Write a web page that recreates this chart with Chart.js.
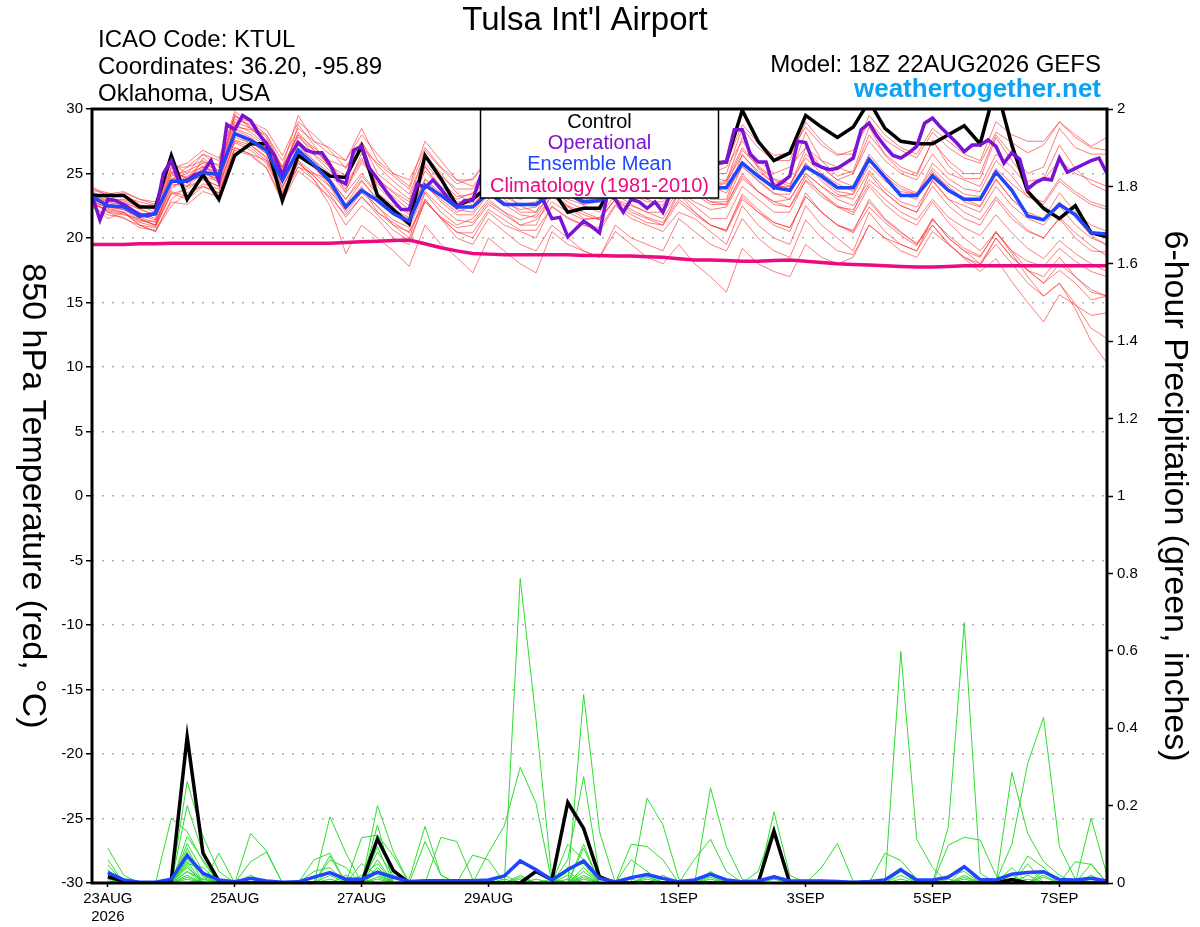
<!DOCTYPE html>
<html>
<head>
<meta charset="utf-8">
<title>Tulsa Int'l Airport - GEFS 850 hPa temperature and precipitation</title>
<script src="https://cdn.jsdelivr.net/npm/chart.js@4.4.1/dist/chart.umd.min.js"></script>
<style>
  html, body { margin: 0; padding: 0; background: #fff; }
  canvas { display: block; }
</style>
</head>
<body>
<canvas id="chart" width="1200" height="927"></canvas>
<script>
// forecast hours from 18Z 22AUG2026 (members every 6 h, operational every 3 h)
const hours6 = Array.from({ length: 65 }, (_, i) => i * 6)
const hours3 = Array.from({ length: 129 }, (_, i) => i * 3)

const tickHours = [6, 54, 102, 150, 222, 270, 318, 366]
const tickLabels = [['23AUG', '2026'], '25AUG', '27AUG', '29AUG', '1SEP', '3SEP', '5SEP', '7SEP']

// 850 hPa temperature, deg C (6-hourly, starting 18Z 22AUG)
const ctrlTemp = [
  23.3,23.3,23.3,22.4,22.4,26.4,23.0,24.9,23.0,26.4,27.3,27.3,22.9,
  26.4,25.6,24.8,24.7,27.1,23.3,22.2,21.1,26.4,24.6,22.5,23.0,24.0,
  25.5,25.0,24.5,23.8,22.0,22.3,22.3,24.5,25.0,24.5,25.0,24.5,25.0,
  25.8,25.9,29.9,27.5,26.0,26.6,29.5,28.6,27.8,28.6,30.6,28.5,27.5,
  27.3,27.3,28.0,28.7,27.3,31.8,27.2,23.6,22.3,21.5,22.5,20.4,20.1
]
const meanTemp = [
  23.2,22.5,22.4,21.7,21.9,24.4,24.4,25.1,24.9,28.1,27.6,26.8,24.5,
  26.8,25.7,24.4,22.4,23.7,22.9,21.9,21.3,24.1,23.3,22.4,22.4,23.5,
  22.6,22.6,22.6,23.5,23.4,22.8,22.9,23.5,23.8,23.6,23.5,23.6,23.9,
  23.9,23.9,25.8,24.8,23.9,23.7,25.5,24.8,23.9,23.9,26.1,24.7,23.3,
  23.3,24.8,23.7,23.0,23.0,25.1,23.7,21.7,21.4,22.6,21.8,20.4,20.3
]
const climTemp = [
  19.5,19.5,19.5,19.55,19.55,19.6,19.6,19.6,19.6,19.6,19.6,19.6,19.6,
  19.6,19.6,19.6,19.65,19.7,19.75,19.8,19.85,19.55,19.25,19.0,18.8,18.75,
  18.7,18.7,18.7,18.7,18.7,18.65,18.65,18.6,18.6,18.55,18.5,18.4,18.3,
  18.3,18.25,18.2,18.2,18.25,18.3,18.2,18.1,18.0,17.95,17.9,17.85,17.8,
  17.75,17.75,17.8,17.85,17.85,17.85,17.85,17.85,17.85,17.85,17.85,17.85,17.85
]
// operational run, 3-hourly
const operTemp = [
  23.3,21.4,23.0,22.9,22.6,22.2,21.8,21.7,
  21.9,25.0,26.0,24.3,24.5,24.9,25.1,26.0,
  24.4,28.8,28.4,29.5,29.1,28.1,27.3,26.4,
  24.9,26.4,27.4,26.8,26.6,26.6,25.7,24.5,
  24.2,26.8,27.1,25.4,24.6,23.7,22.9,22.2,
  22.2,24.2,23.9,24.5,23.8,23.0,22.4,22.9,
  22.9,24.8,25.6,25.3,25.8,25.2,24.6,24.0,
  23.4,22.8,21.5,21.6,20.1,20.7,21.3,20.9,
  20.4,23.4,23.0,22.0,23.0,22.8,22.3,22.8,
  22.0,23.5,24.2,24.5,24.8,24.6,25.0,25.8,
  25.9,28.4,28.4,26.5,25.9,25.9,23.9,24.3,
  24.8,27.5,27.4,25.8,25.5,25.3,25.4,25.8,
  26.2,28.4,28.9,27.9,27.1,26.4,26.2,26.6,
  27.1,28.9,29.3,28.6,28.0,27.4,26.7,27.2,
  27.2,27.6,27.1,25.8,26.6,26.1,23.8,24.3,
  24.6,24.5,26.2,25.1,25.4,25.7,26.0,26.2,
  25.0
]
// ensemble members (thin red)
const redMembers = [
  [23.5,22.8,23.0,22.5,22.0,25.0,24.0,25.5,24.8,28.5,28.0,27.0,25.0,27.5,26.5,25.5,24.0,26.0,24.5,23.5,22.5,25.5,24.0,23.0,23.5,25.0,24.0,23.5,24.0,25.5,24.5,24.0,24.5,26.0,25.0,24.5,25.0,26.5,25.5,25.0,25.5,27.5,26.0,25.0,25.5,27.0,26.0,25.5,25.0,27.5,26.0,25.0,24.5,26.5,25.0,24.5,24.0,26.5,25.5,24.0,24.5,26.0,25.0,24.5,24.0],
  [22.8,22.0,21.5,21.0,20.8,23.5,23.0,24.0,23.5,27.0,26.5,25.5,23.0,25.5,24.5,23.0,21.0,22.5,21.5,20.0,19.5,23.0,21.5,20.5,20.0,22.0,21.0,20.5,20.0,22.5,21.5,21.0,20.5,22.5,21.5,21.0,20.5,22.0,21.5,20.5,19.5,22.5,21.0,20.0,19.5,22.5,21.0,20.0,19.0,22.0,20.5,19.5,19.0,21.0,19.5,18.5,18.0,20.0,18.5,17.5,17.0,18.5,17.0,16.0,15.5],
  [23.0,22.5,22.5,21.5,21.0,24.5,25.0,25.5,25.0,29.5,28.5,27.5,25.5,28.0,27.0,26.0,25.5,27.5,25.0,24.0,23.0,26.5,25.0,23.5,22.5,24.0,23.5,22.5,22.0,24.5,23.5,22.5,22.0,24.0,23.5,23.0,22.5,25.0,24.0,23.0,23.0,26.5,25.0,24.0,24.0,27.0,25.5,24.5,25.0,28.0,26.5,25.5,25.0,27.5,26.0,25.0,25.0,28.0,26.5,25.0,25.5,28.5,27.0,26.5,26.5],
  [22.5,21.5,22.0,21.0,20.5,23.0,24.0,24.5,24.0,27.5,27.0,26.0,24.0,26.0,25.0,24.0,22.0,23.5,22.5,21.0,20.0,23.5,22.0,21.0,21.5,23.0,22.0,21.0,21.0,23.5,22.5,21.5,21.5,23.0,22.0,21.5,21.0,23.5,22.0,21.0,20.5,23.0,22.0,21.0,20.5,23.5,22.0,21.0,20.5,23.0,21.5,20.5,19.5,21.5,20.0,19.0,18.0,19.5,18.0,16.5,15.5,16.5,14.5,12.0,10.3],
  [23.8,23.5,23.2,22.8,22.5,25.5,25.5,26.0,25.0,28.0,27.5,27.0,24.5,27.0,26.0,25.0,23.5,25.0,23.5,22.5,22.0,24.5,23.5,22.5,23.0,24.5,23.5,23.0,23.5,24.5,24.0,23.5,23.5,25.0,24.5,24.0,24.5,26.0,25.0,24.0,24.5,27.0,25.5,24.5,24.0,26.5,25.5,24.5,24.0,26.5,25.0,24.0,23.5,25.0,24.0,23.0,22.5,24.5,23.0,22.0,21.5,23.5,22.0,21.0,20.5],
  [23.0,22.0,21.8,21.5,21.0,24.0,24.5,25.0,24.5,28.0,27.5,26.5,24.0,26.0,24.5,22.5,18.8,21.0,20.0,19.0,17.8,21.0,19.5,18.5,17.3,20.0,19.0,18.0,17.3,20.5,19.5,19.0,18.5,21.0,20.0,19.5,19.0,21.5,20.5,19.5,19.0,21.5,20.0,19.0,18.5,21.4,20.0,19.0,18.7,21.0,20.0,19.0,18.5,20.5,19.5,18.5,17.8,20.0,18.5,17.5,16.5,18.0,17.0,15.8,15.5],
  [23.2,22.8,22.5,22.0,21.5,24.5,25.5,26.5,25.5,29.0,28.5,28.0,25.5,29.5,27.5,26.5,26.0,28.5,26.0,25.0,24.0,27.5,26.0,24.5,24.0,25.5,24.5,24.0,23.5,25.5,25.0,24.5,24.0,26.5,25.5,25.0,24.5,27.0,26.0,25.0,25.0,28.5,27.0,26.0,26.0,29.0,27.5,26.5,26.5,29.5,28.0,27.0,26.5,28.5,27.5,26.5,26.0,29.0,28.0,27.5,27.5,29.0,28.0,27.1,27.8],
  [22.6,22.2,22.0,21.0,20.5,22.5,23.5,24.0,23.5,27.0,26.5,26.0,23.5,25.5,25.0,24.5,23.0,24.5,23.0,22.0,21.5,24.0,23.0,22.0,22.5,24.0,23.0,22.0,22.0,23.5,22.5,22.0,21.5,23.0,22.5,22.0,21.5,23.5,22.5,21.5,21.5,24.0,23.0,22.0,22.0,24.5,23.5,22.5,22.0,25.0,23.5,22.5,22.0,24.5,23.0,22.5,22.0,24.0,22.5,21.5,21.0,22.5,21.0,20.0,19.5],
  [24.0,23.2,23.5,23.0,22.8,25.8,25.0,26.5,26.0,29.8,29.0,28.0,26.0,28.5,27.5,27.0,26.0,28.0,26.5,25.0,24.5,27.0,25.5,24.5,24.5,26.0,25.0,24.5,24.0,25.5,25.0,24.0,24.5,25.5,25.0,24.5,24.0,25.5,24.5,24.0,23.5,25.5,24.5,23.5,23.0,25.0,24.0,23.0,22.5,24.5,23.5,22.5,22.0,24.0,22.5,21.5,21.0,23.0,21.5,20.5,20.0,21.5,20.0,19.0,18.9],
  [22.9,22.3,22.0,21.3,21.3,23.8,24.8,25.3,24.2,28.2,27.2,26.3,23.8,26.8,25.5,24.0,22.5,24.0,22.0,21.0,20.5,23.0,21.5,20.0,19.5,21.5,20.5,19.5,19.0,21.0,20.0,19.0,18.5,20.5,19.5,18.5,18.0,19.5,18.0,17.0,15.8,19.2,18.0,17.4,17.0,19.5,18.5,18.0,18.5,21.0,20.0,19.5,19.0,21.5,20.0,19.0,18.5,20.5,19.0,17.5,16.5,17.5,16.5,15.2,15.5],
  [23.4,22.6,22.8,22.2,21.8,24.8,25.2,25.8,25.2,28.8,28.2,27.2,24.8,27.8,26.8,25.8,24.2,26.2,24.2,23.2,22.2,25.2,23.8,22.8,22.8,24.2,23.2,22.6,22.8,24.6,23.6,23.0,23.0,24.8,23.8,23.2,23.0,24.8,23.6,22.8,22.6,25.0,23.6,22.8,22.4,24.8,23.4,22.4,21.8,24.0,22.6,21.6,21.0,22.8,21.2,20.0,19.0,20.5,18.8,17.0,15.5,16.5,14.9,13.0,12.2],
  [23.6,23.0,23.4,22.6,22.2,25.2,24.6,25.6,25.0,28.6,28.4,27.6,25.2,28.2,26.8,25.6,24.8,27.0,25.8,24.8,23.8,26.8,25.4,24.2,24.6,26.2,25.6,25.0,24.8,26.4,25.4,24.8,25.0,26.8,26.0,25.4,25.6,27.4,26.4,25.6,25.8,28.8,27.4,26.4,26.6,28.6,27.2,26.4,26.8,29.0,27.6,26.8,26.2,28.2,27.0,26.2,25.8,28.2,27.4,26.6,27.2,29.0,27.8,27.0,26.8],
  [23.1,22.4,22.2,21.6,21.2,24.2,24.0,25.0,24.6,28.4,27.8,26.8,24.4,27.2,26.0,24.6,23.0,24.8,23.4,22.2,21.6,24.6,23.2,22.2,22.0,23.6,22.8,22.2,22.4,24.0,23.0,22.6,22.8,24.4,23.6,23.0,23.2,24.6,23.6,22.8,22.8,25.6,24.4,23.4,23.4,25.8,24.6,23.6,23.4,26.0,24.6,23.4,23.0,25.2,23.8,22.8,22.4,24.6,23.0,21.8,21.4,22.8,21.6,20.2,19.4],
  [22.7,22.1,21.9,21.2,20.9,23.4,23.8,24.6,24.0,27.6,27.2,26.2,23.6,25.8,24.8,23.4,21.6,23.2,21.8,20.6,19.8,22.8,21.6,20.4,20.4,22.2,21.4,20.6,20.6,22.4,21.6,21.0,20.8,22.6,21.8,21.2,21.0,22.8,21.8,21.0,20.6,23.2,22.0,21.2,20.8,23.2,22.0,21.0,20.6,22.8,21.4,20.4,19.6,21.0,19.6,18.4,17.4,18.4,16.6,15.0,13.5,15.6,14.8,14.0,14.2],
  [23.3,22.9,22.7,22.3,21.7,25.1,24.7,25.9,25.7,29.2,28.8,27.8,25.4,28.0,26.4,25.2,23.8,25.8,24.6,23.6,22.8,25.8,24.4,23.2,23.4,25.0,24.2,23.8,23.6,25.2,24.4,23.8,23.8,25.6,24.8,24.2,24.0,25.8,24.8,24.2,24.2,26.8,25.6,24.6,24.2,26.2,25.0,24.2,23.6,26.0,24.8,23.8,23.4,25.8,24.6,23.8,23.6,26.0,24.8,23.2,22.6,24.4,23.4,22.6,22.2],
  [22.4,21.8,21.6,20.8,20.6,22.8,22.6,23.6,23.2,26.8,26.4,25.4,22.8,25.2,24.2,23.2,21.8,23.2,22.0,21.2,20.4,22.8,21.6,20.8,21.0,22.6,21.8,21.0,21.4,22.8,22.0,21.4,21.6,23.4,22.6,22.0,22.0,23.6,22.8,22.2,22.4,24.6,23.6,22.8,23.0,25.0,24.0,23.2,23.4,25.6,24.4,23.6,23.4,25.4,24.2,23.4,23.2,25.4,24.2,23.2,22.8,24.6,23.6,22.8,22.4],
  [23.7,23.4,23.6,23.0,22.6,26.0,24.2,26.2,25.2,29.6,28.6,27.4,24.6,28.8,27.2,25.4,23.6,26.6,24.0,22.8,21.8,25.6,23.6,22.6,23.2,24.8,23.6,23.2,23.6,25.8,24.6,23.6,24.2,26.2,24.8,23.6,24.4,26.8,24.6,23.6,24.4,27.8,25.4,24.2,24.8,28.2,26.0,24.8,25.2,28.6,26.4,25.2,24.8,27.6,25.6,24.6,24.6,27.8,26.0,24.4,24.6,27.2,25.4,24.2,23.6],
  [23.0,22.6,22.4,21.8,21.4,24.6,24.4,24.8,24.4,27.8,27.4,26.6,24.2,26.6,25.6,24.2,22.6,24.4,23.0,21.8,21.0,24.2,22.8,21.8,21.8,23.4,22.6,21.8,21.6,23.2,22.4,21.8,21.4,23.0,22.2,21.6,21.2,23.0,22.0,21.0,20.6,23.4,22.2,21.2,20.8,23.2,22.0,21.0,20.4,22.4,21.2,20.2,19.4,21.4,20.2,19.2,18.6,20.4,19.0,18.2,17.8,19.2,18.2,17.4,17.0],
  [23.5,23.1,22.9,22.4,22.3,25.4,25.8,26.8,26.2,29.4,29.0,28.4,26.4,29.0,28.0,26.8,25.4,27.4,25.6,24.4,23.4,26.4,24.8,23.8,23.8,25.4,24.6,24.0,24.2,25.8,25.0,24.6,24.6,26.4,25.6,25.2,25.0,26.6,25.6,24.8,24.4,26.4,25.2,24.2,23.8,25.8,24.4,23.4,23.0,25.2,23.8,22.8,22.4,24.4,23.0,22.0,21.4,23.2,21.8,20.6,20.0,21.6,20.4,19.4,18.6],
  [22.8,22.4,22.2,21.4,21.0,23.6,23.2,24.2,23.8,27.4,26.8,25.8,23.4,25.8,24.8,23.6,22.2,23.8,22.4,21.4,20.8,23.6,22.4,21.4,21.2,22.8,22.0,21.4,21.8,23.6,22.8,22.2,22.4,24.2,23.4,22.8,22.8,24.4,23.4,22.6,22.6,24.8,23.6,22.6,22.4,24.4,23.2,22.4,22.2,24.2,23.0,22.0,21.4,23.0,21.6,20.8,20.2,21.8,20.4,19.2,18.4,19.8,18.8,18.0,17.4]
]

// 6-hour precipitation, inches (valid 00Z 23AUG onwards, 64 steps)
const ctrlPrecip = [
  .016,.005,0,0,.008,.378,.077,.005,0,0,0,0,0,0,0,0,
  0,.114,.032,0,0,0,0,0,0,0,0,.03,.008,.208,.141,.016,
  0,0,0,0,0,0,0,0,0,0,.134,0,0,0,0,0,
  0,0,0,0,0,0,0,0,0,.009,0,0,0,0,0,0
]
const meanPrecip = [
  .027,.008,.002,.002,.01,.071,.025,.008,.003,.012,.005,.002,.003,.015,.027,.01,
  .01,.028,.015,.004,.006,.006,.006,.006,.008,.018,.057,.034,.008,.034,.057,.012,
  .003,.014,.022,.012,.003,.008,.023,.008,.003,.005,.016,.005,.005,.005,.004,.002,
  .004,.008,.034,.008,.008,.015,.042,.009,.008,.023,.027,.029,.009,.008,.012,.005
]
const greenMembers = [
  [.012,0,0,0,0,.262,.12,.03,0,0,0,0,0,0,0,0,
   0,.2,.081,0,0,0,0,0,0,0,.787,.42,.01,0,0,0,
   0,0,0,0,0,0,0,0,0,0,0,0,0,0,0,0,
   0,0,.598,.113,.04,0,0,0,0,0,0,0,0,0,0,0],
  [.06,0,0,0,0,.2,.077,0,0,.128,.083,0,0,0,0,0,
   0,.15,0,0,0,0,0,0,.078,.148,.299,.206,0,0,.1,0,
   0,0,0,0,0,0,0,0,0,0,0,0,0,0,0,0,
   0,0,0,0,0,.146,.673,.025,0,0,0,0,0,0,0,0],
  [.047,0,0,0,.167,.133,.055,0,0,0,0,0,0,0,.171,.078,
   0,0,0,0,0,0,0,0,0,0,0,0,0,0,.487,.133,
   0,0,0,0,0,0,0,0,0,0,0,0,0,0,0,0,
   0,0,0,0,0,0,0,0,.005,.1,.309,.428,.094,.01,0,0],
  [.034,0,0,0,0,.102,.03,0,0,0,0,0,0,.06,.077,0,
   .117,.124,.07,0,0,0,0,0,0,0,0,0,0,.06,.275,.02,
   0,0,0,0,0,0,0,0,0,0,0,0,0,0,0,0,
   0,0,0,0,0,0,0,0,0,.286,.128,.055,.02,0,0,0],
  [.025,0,0,0,0,.081,0,0,0,.055,.08,0,0,0,0,0,
   0,.094,0,.01,.146,.02,0,0,0,0,0,0,0,0,0,0,
   0,0,0,0,0,0,0,0,0,0,.184,.02,0,0,0,0,
   0,0,0,0,0,0,0,0,0,0,0,0,0,0,0,0],
  [.09,.02,0,0,0,.055,0,0,0,0,0,0,0,0,.06,.04,
   0,0,0,0,0,.118,.107,.01,0,0,0,0,0,0,0,0,
   0,0,.219,.15,.01,0,0,0,0,0,0,0,0,0,0,0,
   0,0,0,0,0,0,0,0,0,0,0,0,0,0,.167,.02],
  [0,0,0,0,0,.029,.01,0,0,0,0,0,0,0,.07,0,
   0,.04,0,0,0,0,0,.072,.06,0,0,0,0,0,0,0,
   0,0,0,0,0,0,.246,.094,.01,0,0,0,0,0,0,0,
   0,0,0,0,0,0,0,0,0,0,0,0,0,.055,.048,0],
  [0,0,0,0,0,.02,0,.077,0,0,0,0,0,0,0,0,
   .05,.02,0,0,0,0,0,0,0,0,0,0,0,.1,.06,0,
   0,.1,.094,.06,0,0,0,0,0,.03,.145,0,0,0,0,0,
   0,.077,.058,.01,0,0,0,0,0,0,0,0,0,0,0,0],
  [.01,0,0,0,0,0,0,0,0,.02,0,0,0,.03,.04,0,
   0,0,0,0,.107,.02,0,0,0,0,0,0,0,0,0,0,
   0,0,0,0,0,.062,.113,.03,0,0,0,0,0,.04,.102,.005,
   0,0,0,0,0,.098,.118,.111,.02,0,0,0,0,0,0,0],
  [0,0,0,0,0,.05,.04,0,0,0,0,0,0,0,0,0,
   0,.06,0,0,0,0,0,0,0,0,0,.01,0,0,.09,0,
   0,.06,.03,0,0,0,0,0,0,0,0,0,0,0,0,0,
   0,0,0,0,0,0,0,0,0,0,.07,.04,0,0,.05,0],
  [.005,0,0,0,0,.04,0,0,0,0,0,0,0,0,0,.02,
   0,.03,0,0,0,0,0,0,0,0,.015,0,0,.04,.05,0,
   0,0,0,0,0,0,.02,0,0,0,0,0,0,0,0,0,
   0,0,.03,0,0,0,.04,0,0,.04,0,0,0,0,0,0],
  [0,0,0,0,0,.07,.02,0,0,0,0,0,0,0,.02,0,
   0,0,0,0,0,0,0,0,0,.01,0,0,0,.03,0,0,
   0,0,0,.02,0,0,0,0,0,0,.02,0,0,0,0,0,
   0,0,0,0,0,.02,.03,0,0,0,0,.02,0,0,0,0],
  [0,.01,0,0,0,.12,.06,0,0,0,0,0,0,0,0,0,
   .02,.05,0,0,0,0,0,0,0,0,0,0,.01,0,.04,0,
   0,0,.01,0,0,0,0,0,0,0,0,0,0,0,0,0,
   0,.01,.04,0,0,0,0,0,0,0,.05,0,0,0,0,0],
  [0,0,0,0,0,.03,0,0,0,.01,0,0,0,0,0,0,
   0,.08,.02,0,0,0,0,0,0,0,0,0,0,0,.02,0,
   0,0,.02,0,0,0,.01,0,0,0,0,0,0,0,0,0,
   0,0,0,0,0,0,.02,0,0,.01,0,.03,0,0,0,0],
  [.02,0,0,0,0,.015,0,0,0,0,0,0,0,0,.03,0,
   0,0,0,0,0,0,0,0,0,0,.02,0,0,0,.03,0,
   0,0,0,.01,0,0,0,0,0,0,0,0,0,0,0,0,
   0,0,.02,0,0,0,0,0,0,0,0,0,0,0,.02,0],
  [0,0,0,0,0,.01,0,0,0,0,0,0,0,0,0,0,
   0,.01,0,0,0,0,0,0,0,.02,0,0,0,.01,0,0,
   0,0,0,0,0,0,.03,0,0,0,.01,0,0,0,0,0,
   0,0,0,0,0,0,.01,0,0,0,.02,0,0,0,0,0],
  [.015,0,0,0,0,0,.01,0,0,0,0,0,0,0,.01,0,
   0,0,0,0,0,0,0,0,0,0,0,0,0,0,.015,0,
   0,.01,0,0,0,0,0,0,0,0,0,0,0,0,0,0,
   0,0,0,0,0,0,0,0,0,.02,0,0,0,0,0,0],
  [0,0,0,0,0,.045,0,0,0,0,0,0,0,0,0,0,
   0,.015,0,0,0,0,0,0,0,0,.01,0,0,0,0,0,
   0,0,.015,0,0,0,0,0,0,0,0,0,0,0,0,0,
   0,0,.01,0,0,0,0,0,0,0,0,.015,0,0,0,0],
  [.03,0,0,0,0,.06,.02,0,0,0,0,0,0,0,0,0,
   .01,0,0,0,0,0,0,0,0,0,0,0,0,.02,0,0,
   0,0,0,0,0,0,.015,0,0,0,0,0,0,0,0,0,
   0,0,0,0,0,.01,0,0,0,0,.01,0,0,0,0,0],
  [0,0,0,0,0,.09,.015,0,0,0,0,0,0,0,0,0,
   0,.025,0,0,0,0,0,0,0,0,0,0,0,0,.01,0,
   0,0,0,0,0,0,0,0,0,0,.015,0,0,0,0,0,
   0,0,0,0,0,0,.015,0,0,0,0,0,0,0,.01,0]
]

// sanity check on hand-typed arrays
function checkLen(name, arr, n) {
  if (arr.length !== n) throw new Error(name + ' has ' + arr.length + ' values, expected ' + n)
}
checkLen('ctrlTemp', ctrlTemp, 65)
checkLen('meanTemp', meanTemp, 65)
checkLen('climTemp', climTemp, 65)
checkLen('operTemp', operTemp, 129)
checkLen('ctrlPrecip', ctrlPrecip, 64)
checkLen('meanPrecip', meanPrecip, 64)
redMembers.forEach((m, j) => checkLen('redMembers[' + j + ']', m, 65))
greenMembers.forEach((m, j) => checkLen('greenMembers[' + j + ']', m, 64))

const FONT = '"Liberation Sans", Arial, Helvetica, sans-serif'
const RED = 'rgba(255, 45, 45, 0.62)'
const GREEN = '#2fdc2f'
const PURPLE = '#7b12d4'
const BLUE = '#1f45ff'
const PINK = '#ec0a80'

// pair values with forecast hours
function pts(hrs, vals, offset = 0) {
  return vals.map((v, i) => ({ x: hrs[i + offset], y: v }))
}

const datasets = []
greenMembers.forEach((g, j) => datasets.push({
  label: 'precip member ' + (j + 1), data: pts(hours6, g, 1),
  borderColor: GREEN, borderWidth: 1, yAxisID: 'y2', order: 6
}))
redMembers.forEach((m, j) => datasets.push({
  label: 'temp member ' + (j + 1), data: pts(hours6, m),
  borderColor: RED, borderWidth: 1, yAxisID: 'y', order: 5
}))
datasets.push({ label: 'Climatology (1981-2010)', data: pts(hours6, climTemp), borderColor: PINK, borderWidth: 3.5, yAxisID: 'y', order: 4 })
datasets.push({ label: 'Control', data: pts(hours6, ctrlTemp), borderColor: '#000', borderWidth: 3.5, yAxisID: 'y', order: 3 })
datasets.push({ label: 'Operational', data: pts(hours3, operTemp), borderColor: PURPLE, borderWidth: 3.5, yAxisID: 'y', order: 2 })
datasets.push({ label: 'Ensemble Mean', data: pts(hours6, meanTemp), borderColor: BLUE, borderWidth: 3.5, yAxisID: 'y', order: 1 })
datasets.push({ label: 'Control precip', data: pts(hours6, ctrlPrecip, 1), borderColor: '#000', borderWidth: 3.5, yAxisID: 'y2', order: 3 })
datasets.push({ label: 'Mean precip', data: pts(hours6, meanPrecip, 1), borderColor: BLUE, borderWidth: 3.5, yAxisID: 'y2', order: 1 })

// titles, header, legend box, frame
const decorations = {
  id: 'decorations',
  afterDatasetsDraw(chart) {
    const ctx = chart.ctx
    const a = chart.chartArea
    ctx.save()
    // legend box in the top middle of the plot
    const cx = (a.left + a.right) / 2
    const bw = 238, bh = 89
    ctx.fillStyle = '#fff'
    ctx.fillRect(cx - bw / 2, a.top, bw, bh)
    ctx.strokeStyle = '#000'
    ctx.lineWidth = 1.5
    ctx.strokeRect(cx - bw / 2, a.top, bw, bh)
    ctx.font = '20px ' + FONT
    ctx.textAlign = 'center'
    ctx.textBaseline = 'alphabetic'
    const rows = [['Control', '#000'], ['Operational', PURPLE], ['Ensemble Mean', BLUE], ['Climatology (1981-2010)', PINK]]
    rows.forEach((r, k) => {
      ctx.fillStyle = r[1]
      ctx.fillText(r[0], cx, a.top + 18.5 + k * 21.4)
    })
    // frame
    ctx.strokeStyle = '#000'
    ctx.lineWidth = 3
    ctx.strokeRect(a.left, a.top, a.right - a.left, a.bottom - a.top)
    ctx.restore()
  },
  afterDraw(chart) {
    const ctx = chart.ctx
    ctx.save()
    ctx.fillStyle = '#000'
    ctx.textBaseline = 'alphabetic'
    ctx.font = '33px ' + FONT
    ctx.textAlign = 'center'
    ctx.fillText("Tulsa Int'l Airport", 585, 30)

    ctx.font = '24px ' + FONT
    ctx.textAlign = 'left'
    ctx.fillText('ICAO Code: KTUL', 98, 47)
    ctx.fillText('Coordinates: 36.20, -95.89', 98, 73.5)
    ctx.fillText('Oklahoma, USA', 98, 100.5)

    ctx.textAlign = 'right'
    ctx.fillText('Model: 18Z 22AUG2026 GEFS', 1101, 72)
    ctx.font = 'bold 26px ' + FONT
    ctx.fillStyle = '#0aa2f5'
    ctx.fillText('weathertogether.net', 1101, 97)

    // axis titles, both reading top to bottom
    ctx.fillStyle = '#000'
    ctx.font = '34px ' + FONT
    ctx.textAlign = 'center'
    ctx.textBaseline = 'middle'
    const midY = (chart.chartArea.top + chart.chartArea.bottom) / 2
    ctx.save()
    ctx.translate(32, midY)
    ctx.rotate(Math.PI / 2)
    ctx.fillText('850 hPa Temperature (red, \u00B0C)', 0, 0)
    ctx.restore()
    ctx.save()
    ctx.translate(1174, midY)
    ctx.rotate(Math.PI / 2)
    ctx.fillText('6-hour Precipitation (green, inches)', 0, 0)
    ctx.restore()
    ctx.restore()
  }
}

new Chart(document.getElementById('chart'), {
  type: 'line',
  data: { datasets },
  options: {
    responsive: false,
    animation: false,
    devicePixelRatio: 1,
    layout: { padding: { top: 109, left: 0, right: 0, bottom: 0 }, autoPadding: false },
    elements: {
      point: { radius: 0 },
      line: { tension: 0, fill: false }
    },
    plugins: {
      legend: { display: false },
      tooltip: { enabled: false }
    },
    scales: {
      x: {
        type: 'linear',
        min: 0,
        max: 384,
        afterBuildTicks: s => { s.ticks = tickHours.map(v => ({ value: v })) },
        afterFit: s => { s.height = 44 },
        ticks: {
          autoSkip: false,
          maxRotation: 0,
          padding: 3,
          color: '#000',
          font: { family: FONT, size: 15 },
          callback: (v, i) => tickLabels[i]
        },
        grid: { drawOnChartArea: false, drawTicks: true, tickLength: 4, tickColor: '#000', tickWidth: 1.5 },
        border: { display: false }
      },
      y: {
        position: 'left',
        min: -30,
        max: 30,
        afterFit: s => { s.width = 92 },
        ticks: { stepSize: 5, padding: 3, color: '#000', font: { family: FONT, size: 15 } },
        grid: { color: '#b0b0b0', lineWidth: 1.5, drawTicks: true, tickLength: 6, tickColor: '#000', tickWidth: 1.5 },
        border: { display: false, dash: [2, 8] }
      },
      y2: {
        position: 'right',
        min: 0,
        max: 2,
        afterFit: s => { s.width = 93 },
        ticks: {
          stepSize: 0.2, padding: 4, color: '#000', font: { family: FONT, size: 15 },
          callback: v => String(Number(v.toFixed(1)))
        },
        grid: { drawOnChartArea: false, drawTicks: true, tickLength: 6, tickColor: '#000', tickWidth: 1.5 },
        border: { display: false }
      }
    }
  },
  plugins: [decorations]
})
</script>
</body>
</html>
